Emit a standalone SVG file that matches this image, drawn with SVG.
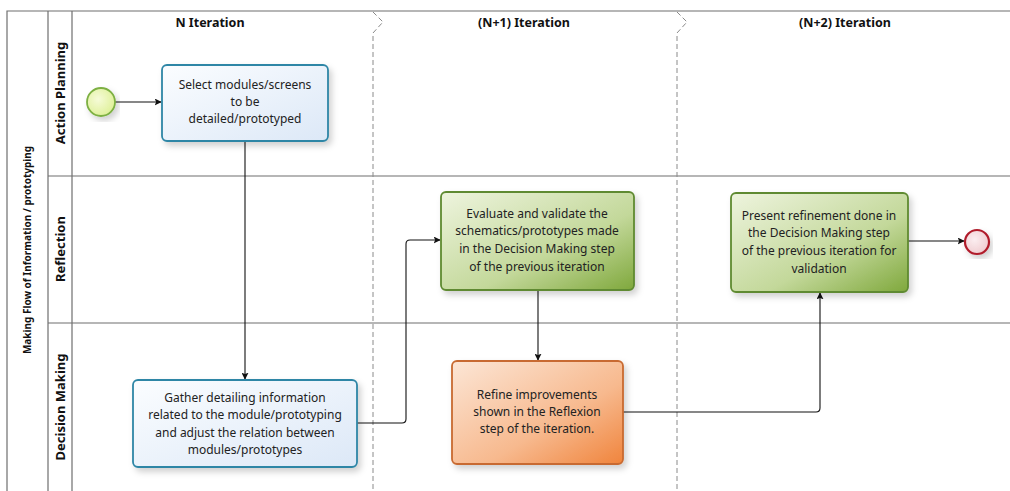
<svg xmlns="http://www.w3.org/2000/svg" width="1010" height="491" viewBox="0 0 1010 491">
<defs>
<style>
.frame{fill:none;stroke:#6f6f6f;stroke-width:1.2}
.sep{fill:none;stroke:#8a8a8a;stroke-width:1;stroke-dasharray:5 3}
.hdr{font-family:"Noto Sans","Open Sans",sans-serif;font-weight:bold;font-size:12.5px;fill:#111;text-anchor:middle}
.lane{font-family:"Noto Sans","Open Sans",sans-serif;font-weight:bold;font-size:13px;fill:#111;text-anchor:middle}
.pool{font-family:"Noto Sans","Open Sans",sans-serif;font-weight:bold;font-size:10px;fill:#111;text-anchor:middle}
.t{font-family:"Noto Sans","Open Sans",sans-serif;font-size:12px;fill:#222;text-anchor:middle}
.blue{fill:url(#gBlue);stroke:#2f86a6;stroke-width:1.8;filter:url(#sh)}
.green{fill:url(#gGreen);stroke:#5f8a30;stroke-width:1.8;filter:url(#sh)}
.orange{fill:url(#gOrange);stroke:#c86a30;stroke-width:1.8;filter:url(#sh)}
.conn{fill:none;stroke:#111;stroke-width:1.1;marker-end:url(#arr)}
</style>
<linearGradient id="gBlue" x1="0" y1="0" x2="1" y2="1"><stop offset="0" stop-color="#fbfdff"/><stop offset="1" stop-color="#dce8f7"/></linearGradient>
<linearGradient id="gGreen" x1="0" y1="0" x2="1" y2="1"><stop offset="0" stop-color="#eef4de"/><stop offset="0.6" stop-color="#c3d89a"/><stop offset="1" stop-color="#7fa83c"/></linearGradient>
<linearGradient id="gOrange" x1="0" y1="0" x2="1" y2="1"><stop offset="0" stop-color="#fce6d6"/><stop offset="0.6" stop-color="#f7b98e"/><stop offset="1" stop-color="#f0843c"/></linearGradient>
<radialGradient id="gStart" cx="0.4" cy="0.4" r="0.7"><stop offset="0" stop-color="#f6fbd8"/><stop offset="1" stop-color="#dcef92"/></radialGradient>
<radialGradient id="gEnd" cx="0.4" cy="0.4" r="0.7"><stop offset="0" stop-color="#fbeef0"/><stop offset="1" stop-color="#efc9cd"/></radialGradient>
<filter id="sh" x="-10%" y="-10%" width="125%" height="130%"><feDropShadow dx="3" dy="4" stdDeviation="3" flood-color="#000" flood-opacity="0.18"/></filter>
<marker id="arr" viewBox="0 0 10 10" refX="9" refY="5" markerWidth="7" markerHeight="7" markerUnits="userSpaceOnUse" orient="auto"><path d="M0,0 L10,5 L0,10 L2,5 Z" fill="#111"/></marker>
</defs>
<rect width="1010" height="491" fill="#fff"/>
<g id="pool">
<path class="frame" d="M7,491 V11 H1010 M48,11 V491 M72,11 V491 M48,176 H1010 M48,323 H1010"/>
<text class="pool" transform="translate(31,250) rotate(-90)">Making Flow of Information / prototyping</text>
<text class="lane" transform="translate(65,93) rotate(-90)">Action Planning</text>
<text class="lane" transform="translate(65,249) rotate(-90)">Reflection</text>
<text class="lane" transform="translate(65,407) rotate(-90)">Decision Making</text>
</g>
<g id="iterations">
<path class="sep" d="M373,12 L383,22 L373,33 V491"/>
<path class="sep" d="M677,12 L687,22 L677,33 V491"/>
<text class="hdr" x="210" y="27">N Iteration</text>
<text class="hdr" x="524" y="27">(N+1) Iteration</text>
<text class="hdr" x="845" y="27">(N+2) Iteration</text>
</g>
<g id="connectors">
<path class="conn" d="M115,102 H161"/>
<path class="conn" d="M245,141 V379"/>
<path class="conn" d="M357,423 H402 Q406,423 406,419 V244 Q406,240 410,240 H440"/>
<path class="conn" d="M538,290 V360"/>
<path class="conn" d="M623,412 H816 Q820,412 820,408 V293"/>
<path class="conn" d="M908,241 H964"/>
</g>
<g id="start"><circle cx="101" cy="102" r="14" fill="url(#gStart)" stroke="#7db043" stroke-width="1.8" filter="url(#sh)"/></g>
<g id="task-select">
<rect class="blue" x="162" y="65" width="166" height="76" rx="5"/>
<text class="t" x="245" y="89">Select modules/screens</text>
<text class="t" x="245" y="106">to be</text>
<text class="t" x="245" y="123">detailed/prototyped</text>
</g>
<g id="task-gather">
<rect class="blue" x="133" y="380" width="224" height="87" rx="5"/>
<text class="t" x="245" y="402">Gather detailing information</text>
<text class="t" x="245" y="419">related to the module/prototyping</text>
<text class="t" x="245" y="437">and adjust the relation between</text>
<text class="t" x="245" y="454">modules/prototypes</text>
</g>
<g id="task-evaluate">
<rect class="green" x="441" y="192" width="193" height="98" rx="5"/>
<text class="t" x="537" y="218">Evaluate and validate the</text>
<text class="t" x="537" y="235">schematics/prototypes made</text>
<text class="t" x="537" y="253">in the Decision Making step</text>
<text class="t" x="537" y="271">of the previous iteration</text>
</g>
<g id="task-refine">
<rect class="orange" x="452" y="361" width="171" height="103" rx="5"/>
<text class="t" x="537" y="399">Refine improvements</text>
<text class="t" x="537" y="416">shown in the Reflexion</text>
<text class="t" x="537" y="433">step of the iteration.</text>
</g>
<g id="task-present">
<rect class="green" x="731" y="193" width="177" height="99" rx="5"/>
<text class="t" x="819" y="220">Present refinement done in</text>
<text class="t" x="819" y="237">the Decision Making step</text>
<text class="t" x="819" y="255">of the previous iteration for</text>
<text class="t" x="819" y="273">validation</text>
</g>
<g id="end"><circle cx="977" cy="242" r="12" fill="url(#gEnd)" stroke="#b01c2c" stroke-width="2.2" filter="url(#sh)"/></g>
</svg>
